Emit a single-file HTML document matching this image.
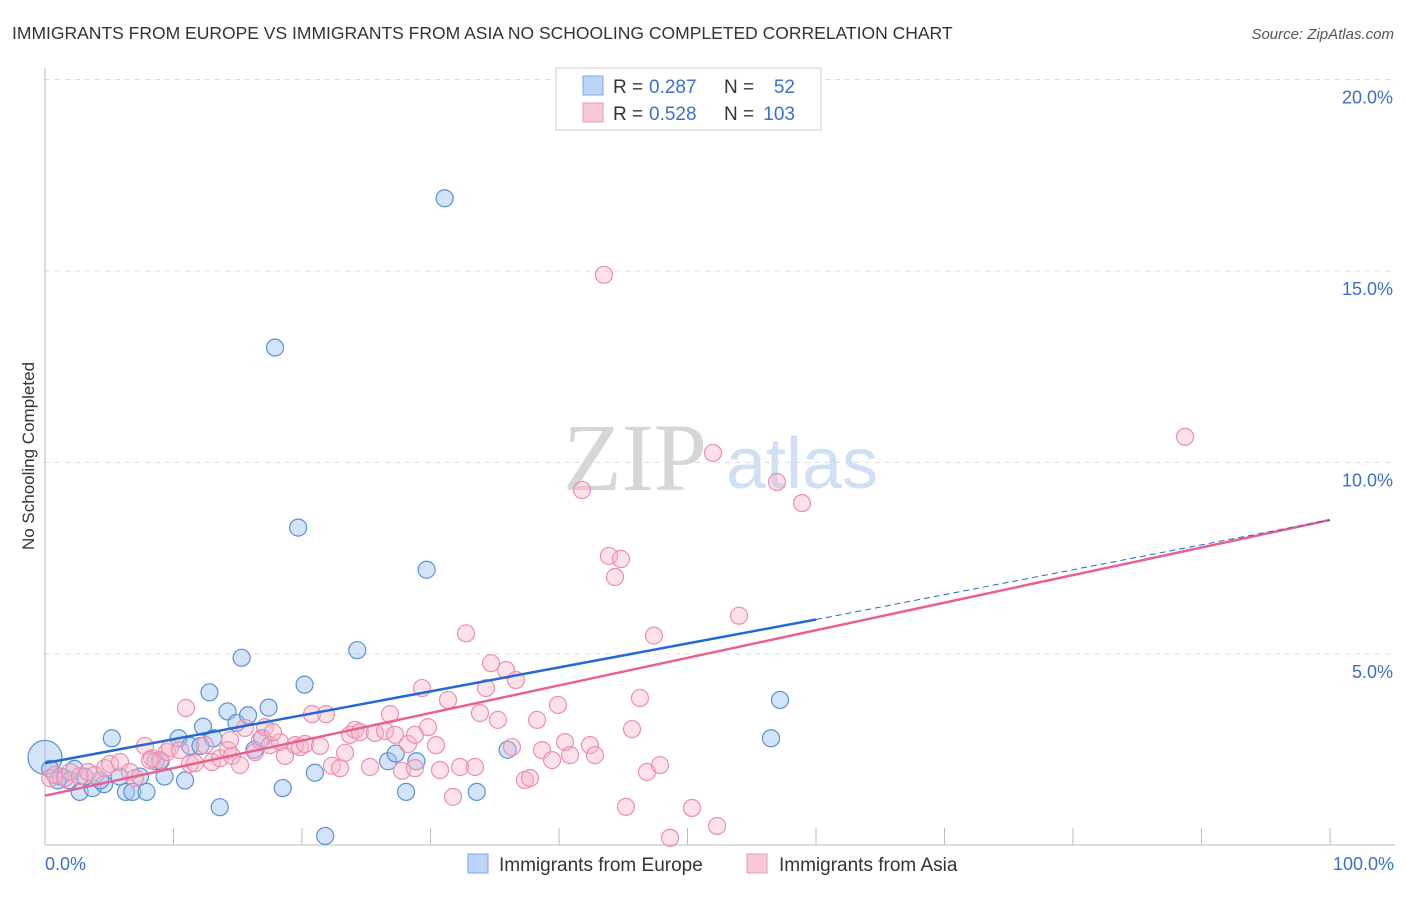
<!DOCTYPE html>
<html><head><meta charset="utf-8"><style>
body{margin:0;background:#fff;font-family:"Liberation Sans",sans-serif;}
</style></head><body>
<svg id="chart" width="1406" height="892" viewBox="0 0 1406 892" xmlns="http://www.w3.org/2000/svg" font-family="Liberation Sans, sans-serif">
<text x="12" y="39" font-size="17.5" fill="#333">IMMIGRANTS FROM EUROPE VS IMMIGRANTS FROM ASIA NO SCHOOLING COMPLETED CORRELATION CHART</text>
<text x="1394" y="39" font-size="15" fill="#555" text-anchor="end" font-style="italic">Source: ZipAtlas.com</text>
<g>
<text x="635" y="490" font-size="96" fill="#d6d6d6" text-anchor="middle" style="font-family:'Liberation Serif',serif">ZIP</text>
<text x="802" y="488" font-size="72" fill="#cfe0f4" text-anchor="middle">atlas</text>
</g>
<g id="grid"></g>
<g id="axes"></g>
<g id="pts"></g>
<g id="lines"></g>
<text transform="translate(34,456) rotate(-90)" font-size="17" fill="#333" text-anchor="middle">No Schooling Completed</text>
<text x="45" y="870" font-size="18" fill="#3a6fd0">0.0%</text>
<text x="1394" y="870" font-size="18" fill="#3a6fd0" text-anchor="end">100.0%</text>
<g>
<rect x="556" y="68" width="265" height="62" fill="#fff" stroke="#ccc"/>
<rect x="583" y="76" width="20" height="19" fill="#bcd4f5" stroke="#7aa7e6"/>
<rect x="583" y="103" width="20" height="19" fill="#f9c8d7" stroke="#ec9ab4"/>
<text x="613" y="93" font-size="19" fill="#333">R =</text>
<text x="649" y="93" font-size="19" fill="#3a6fd0">0.287</text>
<text x="724" y="93" font-size="19" fill="#333">N =</text>
<text x="795" y="93" font-size="19" fill="#3a6fd0" text-anchor="end">52</text>
<text x="613" y="120" font-size="19" fill="#333">R =</text>
<text x="649" y="120" font-size="19" fill="#3a6fd0">0.528</text>
<text x="724" y="120" font-size="19" fill="#333">N =</text>
<text x="795" y="120" font-size="19" fill="#3a6fd0" text-anchor="end">103</text>
</g>
<g>
<rect x="468" y="854" width="20" height="19" fill="#bcd4f5" stroke="#7aa7e6"/>
<text x="499" y="871" font-size="19" fill="#333">Immigrants from Europe</text>
<rect x="747" y="854" width="20" height="19" fill="#f9c8d7" stroke="#ec9ab4"/>
<text x="779" y="871" font-size="19" fill="#333">Immigrants from Asia</text>
</g>
</svg>
<script>
const yTicks=[5,10,15,20];
const europeX=[0,0.4,1.2,2.3,2.7,3.7,4.6,5.2,6.3,6.8,7.9,8.6,9.3,10.4,10.9,11.3,12.1,12.3,12.8,13.1,13.6,14.2,14.9,15.3,15.8,16.3,16.9,17.4,17.9,18.5,19.7,20.2,21,21.8,24.3,26.7,27.3,28.1,28.9,29.7,31.1,33.6,36,56.5,57.2,7.4,1.9,1,3.1,4.3,5.8,9];
const europeY=[2.3,2,1.8,2,1.4,1.5,1.6,2.8,1.4,1.4,1.4,2.2,1.8,2.8,1.7,2.6,2.6,3.1,4,2.8,1,3.5,3.2,4.9,3.4,2.5,2.8,3.6,13,1.5,8.3,4.2,1.9,0.25,5.1,2.2,2.4,1.4,2.2,7.2,16.9,1.4,2.5,2.8,3.8,1.8,1.7,1.7,1.8,1.7,1.8,2.2];
const asiaX=[0.4,0.78,1.56,1.95,2.72,3.35,3.89,4.67,5.06,5.84,6.61,7.0,7.78,8.33,8.95,9.49,9.73,10.97,11.28,11.67,12.45,13.0,13.62,14.24,14.55,15.18,15.56,16.34,16.73,17.12,17.51,18.29,18.68,19.46,19.84,20.23,20.78,21.4,21.87,22.33,22.96,23.35,23.74,24.12,24.51,25.29,25.68,26.46,26.85,27.24,27.78,28.25,28.79,29.34,29.81,30.43,30.74,31.36,31.75,32.3,32.76,33.46,33.85,34.32,34.71,35.25,35.88,36.34,36.65,37.35,37.74,38.29,38.68,39.46,39.92,40.47,40.86,41.79,42.41,42.8,43.5,43.89,44.36,44.82,45.21,45.68,46.3,46.85,47.39,47.86,48.64,50.35,51.98,52.3,54.01,56.96,58.91,88.72,10.51,8.17,14.4,17.74,28.79];
const asiaY=[1.76,1.84,1.76,1.92,1.81,1.92,1.84,2.02,2.13,2.18,1.92,1.76,2.6,2.28,2.23,2.44,2.55,3.59,2.13,2.15,2.62,2.18,2.28,2.49,2.34,2.1,3.07,2.44,2.75,3.09,2.62,2.7,2.34,2.62,2.57,2.65,3.43,2.6,3.43,2.08,2.02,2.42,2.89,3.02,2.96,2.05,2.94,2.99,3.43,2.89,1.95,2.65,2.02,4.11,3.09,2.62,1.97,3.8,1.27,2.05,5.54,2.05,3.46,4.11,4.76,3.28,4.58,2.57,4.32,1.71,1.76,3.28,2.49,2.23,3.67,2.7,2.36,9.28,2.62,2.36,14.9,7.56,7.01,7.48,1.01,3.04,3.85,1.92,5.48,2.1,0.2,0.98,10.25,0.51,6.0,9.49,8.94,10.67,2.49,2.23,2.75,2.96,2.89];
const blueLine=[0,2.15,60,5.9];
const blueDash=[60,5.9,100,8.5];
const pinkLine=[0,1.3,100,8.5];
const NS="http://www.w3.org/2000/svg";
const X0=45,X1=1330,Y0=845.5,PY=38.3;
function sx(v){return X0+(X1-X0)*v/100;}
function sy(v){return Y0-PY*v;}
function mk(tag,attrs,parent){const e=document.createElementNS(NS,tag);for(const k in attrs)e.setAttribute(k,attrs[k]);document.getElementById(parent).appendChild(e);return e;}
yTicks.forEach(t=>{
  const l=mk('line',{x1:45,x2:1395,y1:sy(t),y2:sy(t),stroke:'#ddd','stroke-dasharray':'5,5'},'grid');
  
  
  const tx=mk('text',{x:1393,y:sy(t)+24,'font-size':18,fill:'#3a6fd0','text-anchor':'end'},'grid');
  tx.textContent=t.toFixed(1)+'%';
  
  
});
let ax=mk('line',{x1:45,x2:45,y1:68,y2:845,stroke:'#bbb'},'axes');


ax=mk('line',{x1:45,x2:1395,y1:845,y2:845,stroke:'#bbb'},'axes');


for(let i=1;i<=10;i++){const t=mk('line',{x1:sx(i*10),x2:sx(i*10),y1:828,y2:845,stroke:'#bbb'},'axes');

}
europeX.forEach((v,i)=>{const c=mk('circle',{cx:sx(v),cy:sy(europeY[i]),r:i==0?17:8.5,fill:'rgba(160,195,240,0.45)',stroke:'#5b8fd8','stroke-width':1.2},'pts');

});
asiaX.forEach((v,i)=>{const c=mk('circle',{cx:sx(v),cy:sy(asiaY[i]),r:8.5,fill:'rgba(248,180,200,0.4)',stroke:'#ec8fae','stroke-width':1.2},'pts');

});
let ln=mk('line',{x1:sx(pinkLine[0]),y1:sy(pinkLine[1]),x2:sx(pinkLine[2]),y2:sy(pinkLine[3]),stroke:'#e8608e','stroke-width':2.5},'lines');


ln=mk('line',{x1:sx(blueLine[0]),y1:sy(blueLine[1]),x2:sx(blueLine[2]),y2:sy(blueLine[3]),stroke:'#2268d6','stroke-width':2.5},'lines');


ln=mk('line',{x1:sx(blueDash[0]),y1:sy(blueDash[1]),x2:sx(blueDash[2]),y2:sy(blueDash[3]),stroke:'#2268d6','stroke-width':1,'stroke-dasharray':'6,4'},'lines');


</script>
</body></html>
